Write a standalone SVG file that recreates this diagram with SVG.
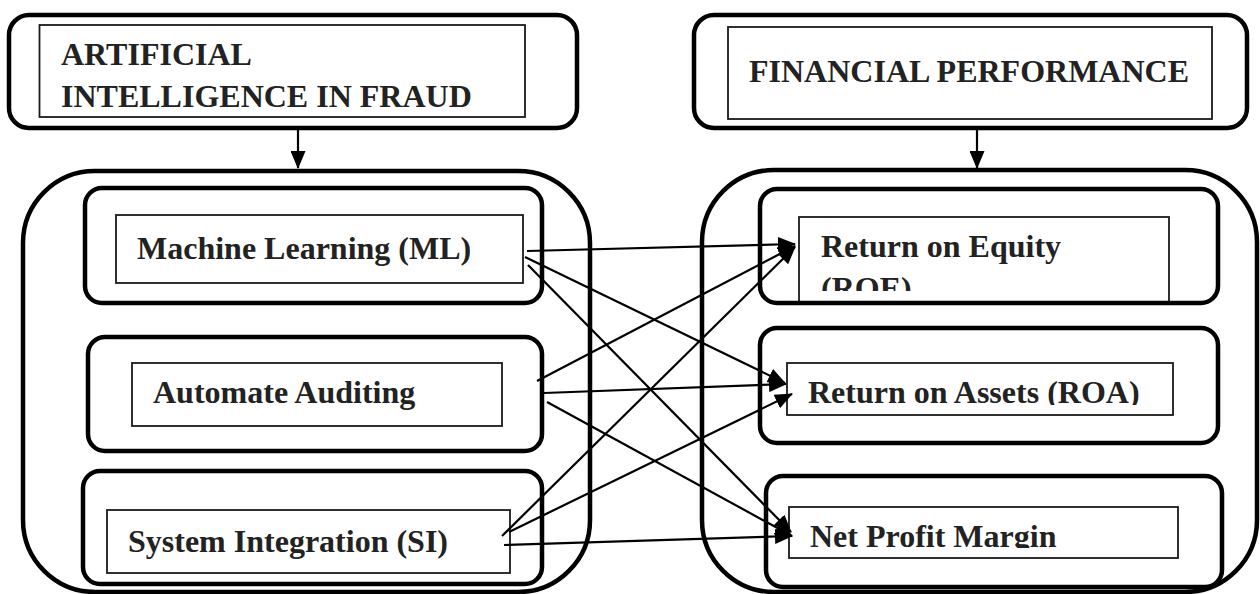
<svg xmlns="http://www.w3.org/2000/svg" width="1260" height="594" viewBox="0 0 1260 594">
<style>
.outer{fill:none;stroke:#000;stroke-width:4.5}
.inner{fill:#fff;stroke:#1a1a1a;stroke-width:1.8}
.lbl{font-family:"Liberation Serif","Times New Roman",serif;font-weight:bold;font-size:32px;fill:#222}
.conn{stroke:#000;stroke-width:2.2;fill:none;marker-end:url(#ah)}
</style>
<defs>
<marker id="ah" markerUnits="userSpaceOnUse" markerWidth="18" markerHeight="15" refX="17" refY="7.5" orient="auto">
<path d="M0,0 L18,7.5 L0,15 z" fill="#000"/>
</marker>
<clipPath id="cRoe"><rect x="799" y="217" width="370" height="74"/></clipPath>
<clipPath id="cRoa"><rect x="787" y="363" width="386" height="42"/></clipPath>
<clipPath id="cNpm"><rect x="789" y="507" width="389" height="41"/></clipPath>
</defs>

<g id="ai-fraud">
<rect class="inner" x="39.5" y="25" width="485.5" height="92"/>
<rect class="outer" x="9" y="15" width="568" height="113" rx="20"/>
<text class="lbl" x="61" y="65">ARTIFICIAL</text>
<text class="lbl" x="61" y="107">INTELLIGENCE IN FRAUD</text>
</g>

<g id="financial-performance">
<rect class="inner" x="728" y="27" width="484" height="92"/>
<rect class="outer" x="694" y="15" width="553" height="113" rx="20"/>
<text class="lbl" x="749" y="82">FINANCIAL PERFORMANCE</text>
</g>

<g id="ai-container">
<rect class="outer" x="23" y="171" width="567" height="421" rx="72"/>
</g>

<g id="fp-container">
<rect class="outer" x="702" y="170" width="555" height="422" rx="72"/>
</g>

<g id="ml">
<rect class="inner" x="116" y="215" width="407" height="68"/>
<rect class="outer" x="85" y="188" width="457" height="115" rx="17"/>
<text class="lbl" x="137" y="259">Machine Learning (ML)</text>
</g>

<g id="aa">
<rect class="inner" x="132" y="363" width="370" height="63"/>
<rect class="outer" x="88" y="337" width="454" height="114" rx="17"/>
<text class="lbl" x="153" y="403">Automate Auditing</text>
</g>

<g id="si">
<rect class="inner" x="107" y="510" width="403" height="63"/>
<rect class="outer" x="83" y="471" width="459" height="113" rx="17"/>
<text class="lbl" x="128" y="552">System Integration (SI)</text>
</g>

<g id="roe">
<rect class="inner" x="799" y="217" width="370" height="86"/>
<g clip-path="url(#cRoe)">
<text class="lbl" x="821" y="257">Return on Equity</text>
<text class="lbl" x="821" y="299">(ROE)</text>
</g>
<rect class="outer" x="760" y="189" width="458" height="114" rx="17"/>
</g>

<g id="roa">
<rect class="inner" x="787" y="363" width="386" height="52"/>
<rect class="outer" x="760" y="328" width="458" height="115" rx="17"/>
<text class="lbl" x="808" y="403" clip-path="url(#cRoa)">Return on Assets (ROA)</text>
</g>

<g id="npm">
<rect class="inner" x="789" y="507" width="389" height="51"/>
<rect class="outer" x="766" y="476" width="456" height="111" rx="17"/>
<text class="lbl" x="810" y="547" clip-path="url(#cNpm)">Net Profit Margin</text>
</g>

<g id="connectors">
<line class="conn" x1="298" y1="128" x2="298" y2="168"/>
<line class="conn" x1="977" y1="128" x2="977" y2="168"/>
<line class="conn" x1="527" y1="251" x2="795" y2="244"/>
<line class="conn" x1="525" y1="257" x2="785" y2="383"/>
<line class="conn" x1="528" y1="265" x2="791" y2="532"/>
<line class="conn" x1="537" y1="381" x2="795" y2="246"/>
<line class="conn" x1="544" y1="393" x2="786" y2="384"/>
<line class="conn" x1="547" y1="402" x2="792" y2="536"/>
<line class="conn" x1="502" y1="536" x2="795" y2="247"/>
<line class="conn" x1="509" y1="532" x2="792" y2="394"/>
<line class="conn" x1="504" y1="545" x2="792" y2="536"/>
</g>
</svg>
